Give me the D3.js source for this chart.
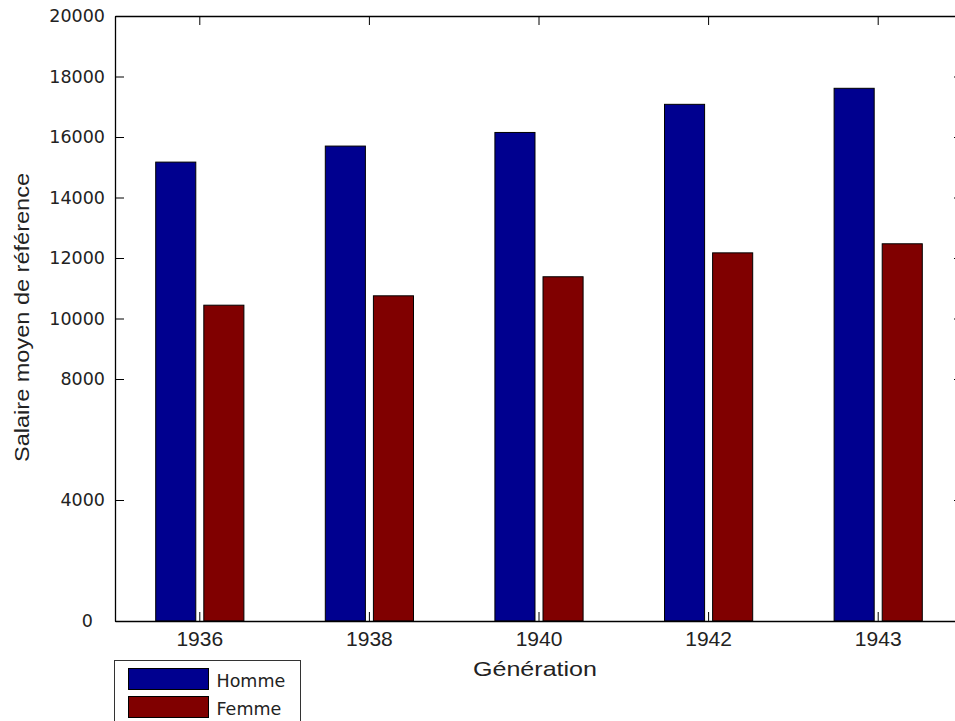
<!DOCTYPE html>
<html>
<head>
<meta charset="utf-8">
<script src="https://cdn.jsdelivr.net/npm/d3@7"></script>
<style>
  body { margin: 0; background: #fff; }
  svg { display: block; }
</style>
</head>
<body>
<div id="chart"></div>
<script>
// données
var years = ["1936", "1938", "1940", "1942", "1943"];
var homme = [15170, 15700, 16150, 17080, 17610];
var femme = [10440, 10750, 11380, 12170, 12470];
var seriesNames = ["Homme", "Femme"];
var seriesColors = ["#00008f", "#800000"];
var yTicks = [0, 4000, 8000, 10000, 12000, 14000, 16000, 18000, 20000];

var W = 955, H = 721;
var margin = {top: 16, right: -8, bottom: 100, left: 115},
    width = W - margin.left - margin.right,
    height = H - margin.top - margin.bottom;

var svg = d3.select("#chart")
  .append("svg")
    .attr("width", W)
    .attr("height", H);

var g = svg.append("g")
    .attr("transform", "translate(" + margin.left + "," + margin.top + ")");

var rows = years.map(function (y, i) {
  return {year: y, values: [homme[i], femme[i]]};
});

// X scales
var x0 = d3.scaleBand()
  .domain(years)
  .range([0, width])
  .padding(0);

var x1 = d3.scaleBand()
  .domain(seriesNames)
  .range([x0.bandwidth() * 0.24, x0.bandwidth() * 0.76])
  .paddingInner(1 / 6);

// Y scale
var y = d3.scaleLinear()
  .domain([0, 20000])
  .range([height, 0]);

var color = d3.scaleOrdinal()
  .domain(seriesNames)
  .range(seriesColors);

// bars
g.append("g")
  .selectAll("g")
  .data(rows)
  .enter()
  .append("g")
    .attr("transform", function (d) { return "translate(" + x0(d.year) + ",0)"; })
  .selectAll("rect")
  .data(function (d) { return d.values.map(function (v, i) { return {name: seriesNames[i], value: v}; }); })
  .enter()
  .append("rect")
    .attr("x", function (d) { return x1(d.name); })
    .attr("y", function (d) { return y(d.value); })
    .attr("width", x1.bandwidth())
    .attr("height", function (d) { return height - y(d.value); })
    .attr("fill", function (d) { return color(d.name); })
    .attr("stroke", "#000")
    .attr("stroke-width", 1);

// axes (ticks inside, MATLAB style)
var tickLen = 9;

var xAxis = g.append("g")
  .attr("transform", "translate(0," + height + ")")
  .call(d3.axisBottom(x0).tickSizeInner(-tickLen).tickSizeOuter(0).tickPadding(10));
xAxis.selectAll("text")
  .style("font-family", "'Liberation Sans', Arial, sans-serif")
  .style("font-size", "21px")
  .attr("fill", "#222");

g.append("g")
  .call(d3.axisTop(x0).tickSizeInner(-tickLen).tickSizeOuter(0).tickFormat(""));

var yAxis = g.append("g")
  .call(d3.axisLeft(y).tickValues(yTicks).tickFormat(d3.format("d"))
    .tickSizeInner(-tickLen).tickSizeOuter(0).tickPadding(10));
yAxis.selectAll("text")
  .style("font-family", "'DejaVu Sans', sans-serif")
  .style("font-size", "17.5px")
  .attr("fill", "#222")
  .attr("dx", function (d) { return d === 0 ? -12 : 0; });

g.append("g")
  .attr("transform", "translate(" + width + ",0)")
  .call(d3.axisRight(y).tickValues(yTicks).tickSizeInner(-tickLen).tickSizeOuter(0).tickFormat(""));

g.selectAll(".domain").attr("stroke", "#000").attr("stroke-width", 1.3);
g.selectAll(".tick line").attr("stroke", "#000");

// axis titles
g.append("text")
  .attr("x", width / 2 - 4)
  .attr("y", height + 55)
  .attr("text-anchor", "middle")
  .attr("textLength", 124)
  .attr("lengthAdjust", "spacingAndGlyphs")
  .style("font-family", "'Liberation Sans', Arial, sans-serif")
  .style("font-size", "21px")
  .attr("fill", "#222")
  .text("Génération");

svg.append("text")
  .attr("transform", "translate(29," + (margin.top + height / 2 - 1) + ") rotate(-90)")
  .attr("text-anchor", "middle")
  .attr("textLength", 289)
  .attr("lengthAdjust", "spacingAndGlyphs")
  .style("font-family", "'Liberation Sans', Arial, sans-serif")
  .style("font-size", "20px")
  .attr("fill", "#222")
  .text("Salaire moyen de référence");

// legend
var legend = svg.append("g")
  .attr("transform", "translate(114.5,660.5)");

legend.append("rect")
  .attr("width", 186)
  .attr("height", 80)
  .attr("fill", "#fff")
  .attr("stroke", "#333")
  .attr("stroke-width", 1);

var item = legend.selectAll(".item")
  .data(seriesNames)
  .enter()
  .append("g")
    .attr("class", "item")
    .attr("transform", function (d, i) { return "translate(14," + (8 + i * 28) + ")"; });

item.append("rect")
  .attr("width", 80)
  .attr("height", 21)
  .attr("fill", function (d) { return color(d); })
  .attr("stroke", "#000");

item.append("text")
  .attr("x", 88)
  .attr("y", 18)
  .style("font-family", "'DejaVu Sans', sans-serif")
  .style("font-size", "17.5px")
  .attr("fill", "#222")
  .text(function (d) { return d; });
</script>
</body>
</html>
